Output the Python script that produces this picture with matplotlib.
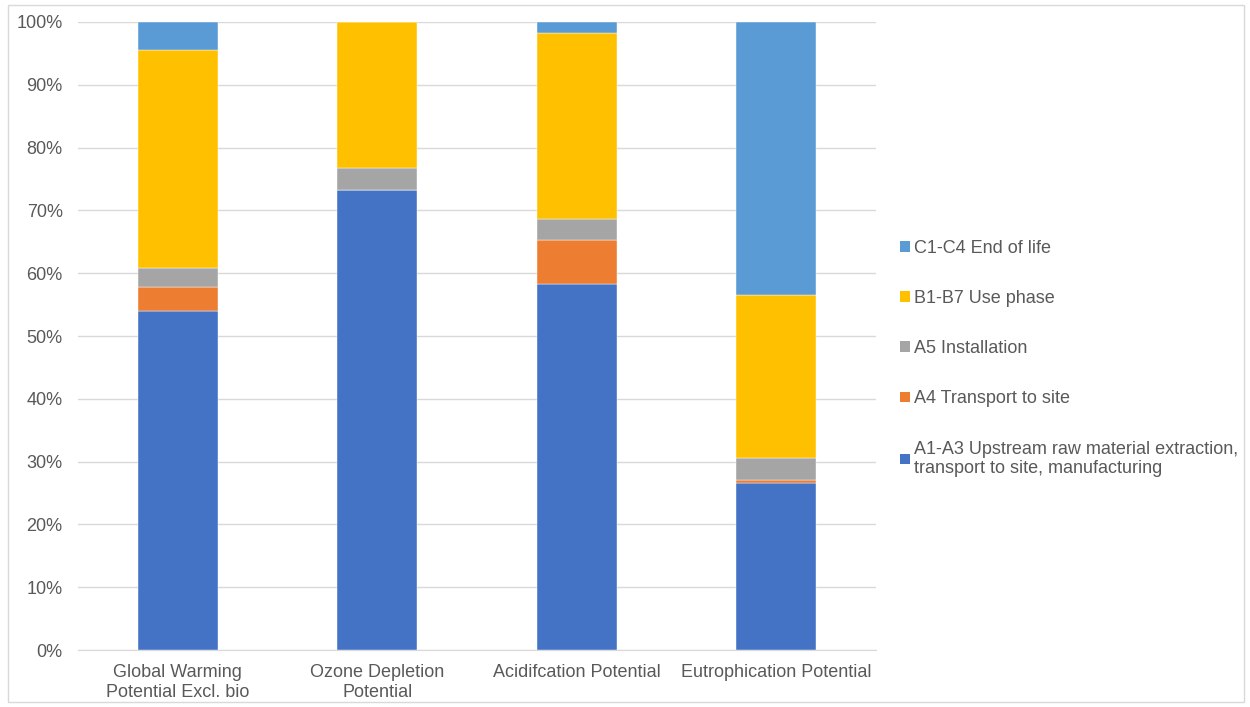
import matplotlib.pyplot as plt
from matplotlib.patches import Rectangle, Patch
from matplotlib.ticker import PercentFormatter

plt.rcParams['font.family'] = ['Liberation Sans', 'DejaVu Sans']

categories = ['Global Warming\nPotential Excl. bio', 'Ozone Depletion\nPotential',
              'Acidifcation Potential', 'Eutrophication Potential']

# share of each life cycle stage, percent
a1_a3 = [54.0, 73.2, 58.3, 26.6]
a4 = [3.8, 0.0, 7.0, 0.4]
a5 = [3.0, 3.6, 3.3, 3.6]
b1_b7 = [34.7, 23.2, 29.6, 26.0]
c1_c4 = [4.5, 0.0, 1.8, 43.4]

series = [
    ('A1-A3 Upstream raw material extraction,\ntransport to site, manufacturing', a1_a3, '#4472C4'),
    ('A4 Transport to site', a4, '#ED7D31'),
    ('A5 Installation', a5, '#A5A5A5'),
    ('B1-B7 Use phase', b1_b7, '#FFC000'),
    ('C1-C4 End of life', c1_c4, '#5B9BD5'),
]

fs = 13

fig = plt.figure(figsize=(12.5, 7.07), dpi=100)
ax = fig.add_axes([0.0624, 0.0806, 0.6384, 0.8883])

x = range(len(categories))
bottom = [0.0] * len(categories)
handles = []
for label, vals, col in series:
    ax.bar(x, vals, 0.4, bottom=bottom, color=col, edgecolor='white', linewidth=0.3, zorder=3)
    bottom = [b + v for b, v in zip(bottom, vals)]
    handles.append(Patch(facecolor=col, label=label))

ax.set_xlim(-0.5, 3.5)
ax.set_ylim(0, 100)
ax.set_yticks(range(0, 101, 10))
ax.yaxis.set_major_formatter(PercentFormatter(decimals=0))
ax.set_xticks(list(x))
ax.set_xticklabels(categories)
ax.grid(axis='y', color='#d9d9d9', linewidth=1, zorder=0)
for s in ['top', 'right', 'left']:
    ax.spines[s].set_visible(False)
ax.spines['bottom'].set_color('#d9d9d9')
ax.tick_params(axis='both', length=0, labelsize=fs, labelcolor='#595959')
ax.tick_params(axis='y', pad=11)
ax.tick_params(axis='x', pad=10)

leg = fig.legend(handles=handles[::-1], loc='center left', bbox_to_anchor=(0.707, 0.493),
                 frameon=False, fontsize=fs, labelcolor='#595959', handlelength=0.55,
                 handleheight=0.55, handletextpad=0.25, labelspacing=1.84)

fig.patches.append(Rectangle((8 / 1250, 5 / 707), 1236 / 1250, 697 / 707, transform=fig.transFigure,
                             fill=False, edgecolor='#d9d9d9', linewidth=1))

fig.savefig('out.png', dpi=100)
